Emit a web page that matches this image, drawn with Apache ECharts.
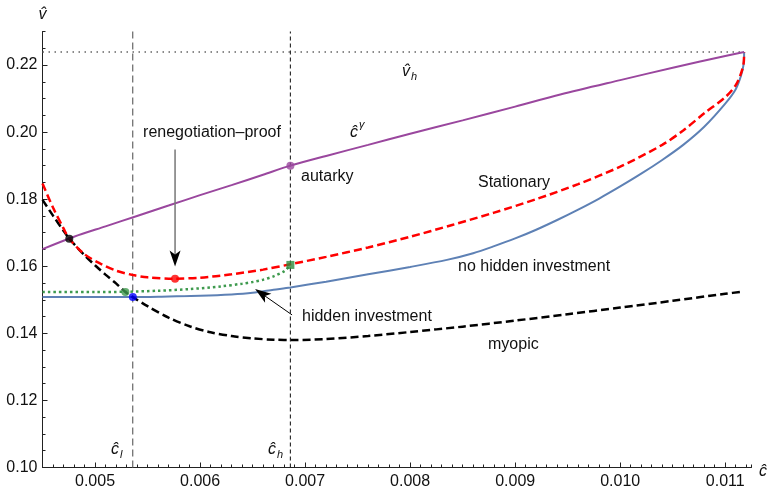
<!DOCTYPE html>
<html><head><meta charset="utf-8">
<script src="https://cdn.jsdelivr.net/npm/echarts@6/dist/echarts.min.js"></script>
<style>html,body{margin:0;padding:0;background:#fff}#c{width:771px;height:495px}</style>
</head><body><div id="c"></div>
<script>
// ---- axis ranges & ticks ----
const xMin = 0.0045, xMax = 0.01125, yMin = 0.10, yMax = 0.23;
const xTickValues = [0.005, 0.006, 0.007, 0.008, 0.009, 0.010, 0.011];
const yTickValues = [0.10, 0.12, 0.14, 0.16, 0.18, 0.20, 0.22];

// ---- reference levels ----
const cL = 0.005359, cH = 0.00686, vH = 0.2239;

// ---- autarky curve c^gamma (purple) ----
const autarkyC = [0.0045, 0.0048, 0.0051, 0.0054, 0.0057, 0.0060, 0.0063, 0.0066, 0.00686, 0.0072, 0.0076, 0.0080, 0.0085, 0.0090, 0.00943, 0.0100, 0.0105, 0.0110, 0.01118];
const autarkyV = [0.1651, 0.1688, 0.1719, 0.1750, 0.1781, 0.1812, 0.1842, 0.1873, 0.1900, 0.1929, 0.1962, 0.1995, 0.2035, 0.2076, 0.2112, 0.2155, 0.2192, 0.2227, 0.2239];

// ---- Stationary (red dashed) ----
const statC = [0.0045, 0.0046, 0.0047, 0.004755, 0.0049, 0.00505, 0.0052, 0.00536, 0.0055, 0.00576, 0.0060, 0.0063, 0.0066, 0.00686, 0.0072, 0.0076, 0.0080, 0.0084, 0.0088, 0.0092, 0.0096, 0.0100, 0.0104, 0.0106, 0.0108, 0.0110, 0.0111, 0.01115, 0.011175, 0.01118];
const statV = [0.1847, 0.1775, 0.1713, 0.1682, 0.1636, 0.1608, 0.1587, 0.1574, 0.1567, 0.1563, 0.1566, 0.1576, 0.1590, 0.1606, 0.1628, 0.1656, 0.1688, 0.1723, 0.1760, 0.1800, 0.1845, 0.1897, 0.1962, 0.2005, 0.2056, 0.2104, 0.2140, 0.2175, 0.2205, 0.2239];

// ---- no hidden investment (blue) ----
const noHidC = [0.0045, 0.0050, 0.00536, 0.0057, 0.0060, 0.0063, 0.0065, 0.0067, 0.00686, 0.0072, 0.0076, 0.0080, 0.00835, 0.0086, 0.0088, 0.0090, 0.0092, 0.0094, 0.0096, 0.0098, 0.0100, 0.0102, 0.0104, 0.0106, 0.0108, 0.0110, 0.0111, 0.01115, 0.011175, 0.01118];
const noHidV = [0.1508, 0.1508, 0.1508, 0.1510, 0.1512, 0.1516, 0.1521, 0.1530, 0.1537, 0.1554, 0.1576, 0.1598, 0.1619, 0.1639, 0.1660, 0.1683, 0.1709, 0.1738, 0.1769, 0.1802, 0.1838, 0.1876, 0.1917, 0.1962, 0.2016, 0.2085, 0.2128, 0.2168, 0.2203, 0.2239];

// ---- hidden investment (green dotted) ----
const hidC = [0.0045, 0.0050, 0.00529, 0.0056, 0.0059, 0.0062, 0.0064, 0.0065, 0.0066, 0.0067, 0.0068, 0.00683, 0.00686];
const hidV = [0.1523, 0.1523, 0.1524, 0.1527, 0.1532, 0.1540, 0.1548, 0.1553, 0.1560, 0.1570, 0.1585, 0.1593, 0.1604];

// ---- myopic (black dashed) ----
const myoC = [0.0045, 0.0046, 0.0047, 0.004755, 0.0049, 0.0050, 0.0051, 0.0052, 0.005289, 0.00536, 0.0055, 0.0057, 0.0059, 0.0061, 0.0063, 0.0065, 0.0067, 0.0069, 0.0072, 0.0076, 0.0080, 0.0085, 0.0090, 0.0095, 0.0100, 0.0105, 0.0110, 0.01116];
const myoV = [0.1798, 0.1751, 0.1706, 0.1682, 0.1633, 0.1603, 0.1575, 0.1549, 0.15235, 0.1508, 0.1481, 0.1447, 0.1421, 0.1403, 0.1392, 0.1385, 0.1381, 0.1380, 0.1383, 0.1392, 0.1404, 0.1420, 0.1438, 0.1457, 0.1477, 0.1497, 0.1518, 0.1524];

// ---- marked points ----
const ptBlack = [0.004755, 0.1682];
const ptGreen = [0.005289, 0.15235];
const ptBlue = [0.00536, 0.1508];
const ptRed = [0.005762, 0.1563];
const ptAutarky = [0.00686, 0.1900];
const ptSquare = [0.00686, 0.1604];

function zip(a, b) { return a.map((x, i) => [x, b[i]]); }

const FONT = 'Liberation Sans';
const axisColor = '#222';
const chart = echarts.init(document.getElementById('c'));

function lineSeries(name, data, color, width, type, z) {
  return { type: 'line', name, data, symbol: 'none', smooth: 0.3,
    lineStyle: { color, width, type, cap: 'butt' }, z: z || 2, silent: true };
}
function dot(pt, color, shape, size) {
  return { type: 'scatter', data: [pt], symbol: shape || 'circle', symbolSize: size || 8,
    itemStyle: { color }, z: 10, silent: true };
}

const option = {
  animation: false,
  backgroundColor: '#fff',
  grid: { left: 42.5, top: 31.5, width: 709, height: 436, containLabel: false },
  xAxis: [
    { type: 'value', min: xMin, max: xMax, interval: 0.0005, position: 'bottom',
      axisLine: { show: true, onZero: false, lineStyle: { color: axisColor, width: 1 } },
      axisTick: { show: true, inside: true, length: 5, customValues: xTickValues, lineStyle: { color: axisColor } },
      axisLabel: { show: true, customValues: xTickValues, formatter: v => v.toFixed(3), color: '#111',
        fontSize: 16, fontFamily: FONT, margin: 6 },
      splitLine: { show: false } },
    { type: 'value', min: xMin, max: xMax, interval: 0.0001, position: 'bottom',
      axisLine: { show: false, onZero: false },
      axisTick: { show: true, inside: true, length: 3, lineStyle: { color: axisColor } },
      axisLabel: { show: false }, splitLine: { show: false } }
  ],
  yAxis: [
    { type: 'value', min: yMin, max: yMax, interval: 0.02, position: 'left',
      axisLine: { show: true, onZero: false, lineStyle: { color: axisColor, width: 1 } },
      axisTick: { show: true, inside: true, length: 5, customValues: yTickValues, lineStyle: { color: axisColor } },
      axisLabel: { show: true, customValues: yTickValues, formatter: v => v.toFixed(2), color: '#111',
        fontSize: 16, fontFamily: FONT, margin: 5 },
      splitLine: { show: false } },
    { type: 'value', min: yMin, max: yMax, interval: 0.005, position: 'left',
      axisLine: { show: false, onZero: false },
      axisTick: { show: true, inside: true, length: 3, lineStyle: { color: axisColor } },
      axisLabel: { show: false }, splitLine: { show: false } }
  ],
  series: [
    { type: 'line', data: zip([cL, cL], [yMin, yMax]), symbol: 'none', silent: true, z: 1,
      lineStyle: { color: '#666', width: 1.2, type: [7, 4] } },
    { type: 'line', data: zip([cH, cH], [yMin, yMax]), symbol: 'none', silent: true, z: 1,
      lineStyle: { color: '#222', width: 1.1, type: [4, 3] } },
    { type: 'line', data: zip([xMin, 0.01118], [vH, vH]), symbol: 'none', silent: true, z: 1,
      lineStyle: { color: '#666', width: 1.4, type: [1.5, 4.5] } },
    lineSeries('no hidden investment', zip(noHidC, noHidV), '#5E81B5', 2, 'solid', 3),
    lineSeries('hidden investment', zip(hidC, hidV), '#3E9A4E', 2.5, [2.5, 3], 4),
    lineSeries('myopic', zip(myoC, myoV), '#000', 2.5, [8, 4], 4),
    lineSeries('Stationary', zip(statC, statV), '#FF0000', 2.5, [8, 4], 5),
    lineSeries('autarky', zip(autarkyC, autarkyV), '#9A479E', 2, 'solid', 6),
    dot(ptBlack, '#000'),
    dot(ptGreen, '#3E9A4E'),
    dot(ptBlue, '#0000FF'),
    dot(ptRed, '#FF0000'),
    dot(ptAutarky, '#9A479E'),
    dot(ptSquare, '#2E8B3E', 'rect', 8)
  ]
};
chart.setOption(option);

// ---- annotations (text and arrows) ----
function px(c, v) { return chart.convertToPixel({ xAxisIndex: 0, yAxisIndex: 0 }, [c, v]); }
function txt(x, y, s, opts) {
  return Object.assign({ type: 'text', x, y, silent: true, z: 20,
    style: Object.assign({ text: s, fill: '#111', fontSize: 16, fontFamily: FONT, textAlign: 'left', textVerticalAlign: 'middle' }, (opts || {})) });
}
function arrow(p0, p1, lineColor, headColor, w) {
  const dx = p1[0] - p0[0], dy = p1[1] - p0[1];
  const L = Math.hypot(dx, dy), ux = dx / L, uy = dy / L;
  const hl = 16, hw = 5.5;
  const bx = p1[0] - ux * hl, by = p1[1] - uy * hl;
  const nx = p1[0] - ux * hl * 0.75, ny = p1[1] - uy * hl * 0.75;
  return [
    { type: 'line', silent: true, z: 19, shape: { x1: p0[0], y1: p0[1], x2: nx, y2: ny },
      style: { stroke: lineColor, lineWidth: w } },
    { type: 'polygon', silent: true, z: 20, shape: { points: [
      [p1[0], p1[1]], [bx - uy * hw, by + ux * hw], [nx, ny], [bx + uy * hw, by - ux * hw]] },
      style: { fill: headColor } }
  ];
}
const it = { fontStyle: 'italic' };
const g = [
  txt(212, 133, 'renegotiation\u2013proof', { textAlign: 'center' }),
  txt(301, 177, 'autarky'),
  txt(478, 183, 'Stationary'),
  txt(458, 267, 'no hidden investment'),
  txt(302, 317, 'hidden investment'),
  txt(488, 345, 'myopic'),
  // v_h
  txt(402, 72, 'v\u0302', it), txt(411, 77, 'h', Object.assign({ fontSize: 11 }, it)),
  // c^gamma
  txt(350, 133, '\u0109', it), txt(359, 125, '\u03B3', Object.assign({ fontSize: 11 }, it)),
  // c_l, c_h
  txt(111, 450, '\u0109', it), txt(120, 455, 'l', Object.assign({ fontSize: 11 }, it)),
  txt(268, 450, '\u0109', it), txt(277, 455, 'h', Object.assign({ fontSize: 11 }, it)),
  // axis titles
  txt(42.5, 15, 'v\u0302', Object.assign({ textAlign: 'center' }, it)),
  txt(763, 472, '\u0109', Object.assign({ textAlign: 'center' }, it))
];
const a1 = arrow(px(0.005762, 0.1948), px(0.005762, 0.1599), '#777', '#000', 1.5);
const a2 = arrow(px(0.006876, 0.1455), px(0.006524, 0.1532), '#000', '#000', 1);
chart.setOption({ graphic: g.concat(a1, a2) });
</script>
</body></html>
